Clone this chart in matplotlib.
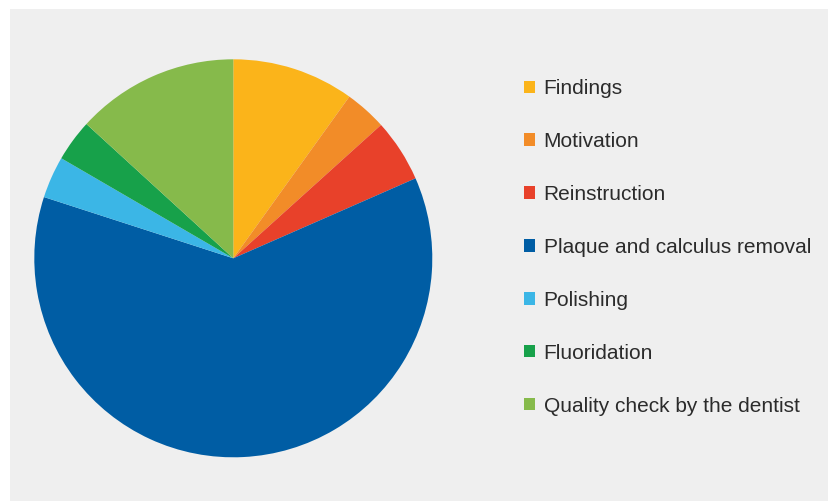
import matplotlib.pyplot as plt
from matplotlib.patches import Patch, Rectangle

plt.rcParams['font.family'] = ['Liberation Sans', 'DejaVu Sans']

labels = ['Findings', 'Motivation', 'Reinstruction', 'Plaque and calculus removal',
          'Polishing', 'Fluoridation', 'Quality check by the dentist']
shares = [9.9, 3.4, 5.1, 61.5, 3.4, 3.4, 13.2]
colors = ['#FBB41A', '#F28C28', '#E8412A', '#005DA4', '#3BB6E6', '#17A14A', '#86BA4B']

W, H = 829, 501
fig = plt.figure(figsize=(W / 100, H / 100), dpi=100)
fig.patch.set_facecolor('white')

# grey panel (white strip on top and left)
fig.patches.append(Rectangle((10 / W, 0), 1 - 10 / W, 1 - 9 / H,
                             transform=fig.transFigure, facecolor='#EFEFEF',
                             edgecolor='none', zorder=-10))

cx, cy, r = 233.3, 258.3, 199
ax = fig.add_axes([(cx - r) / W, (H - cy - r) / H, 2 * r / W, 2 * r / H])
ax.set_zorder(1)
ax.pie(shares, colors=colors, startangle=90, counterclock=False, radius=1,
       wedgeprops=dict(linewidth=0))
ax.set_xlim(-1, 1)
ax.set_ylim(-1, 1)
ax.set_aspect('equal')
ax.axis('off')

handles = [Patch(facecolor=c, edgecolor='none') for c in colors]
leg = fig.legend(handles, labels, loc='upper left',
                 bbox_to_anchor=(524 / W, 1 - 79 / H), frameon=False,
                 fontsize=15, handlelength=0.52, handleheight=0.52,
                 handletextpad=0.42, labelspacing=1.63, borderaxespad=0,
                 borderpad=0)
for t in leg.get_texts():
    t.set_color('#2B2B2B')

fig.savefig('out.png', dpi=100, facecolor=fig.get_facecolor())
